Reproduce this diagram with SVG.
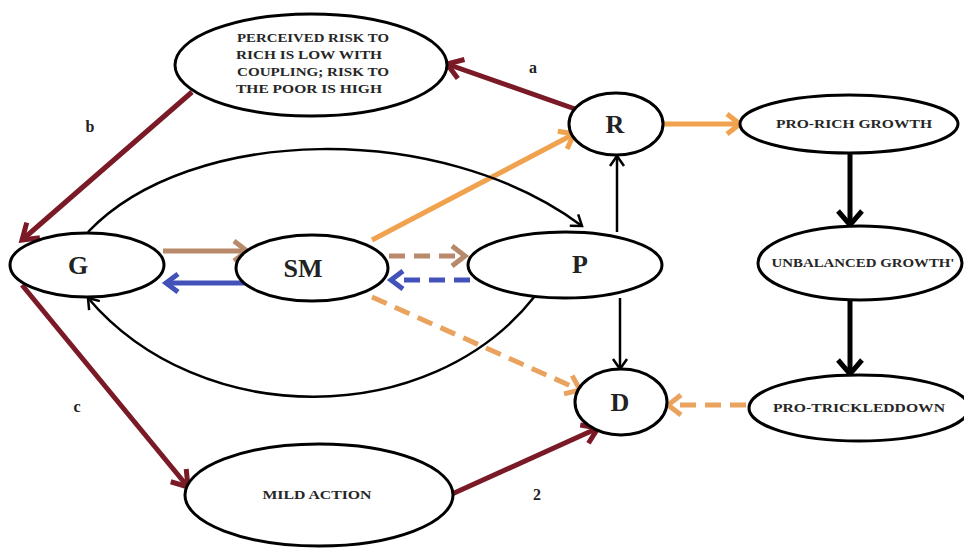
<svg xmlns="http://www.w3.org/2000/svg" width="964" height="548" viewBox="0 0 964 548">
<style>
.n{fill:#fff;stroke:#000;stroke-width:3}
.big{font-family:"Liberation Serif",serif;font-weight:bold;font-size:26px;fill:#222;text-anchor:middle}
.sm{font-family:"Liberation Serif",serif;font-weight:bold;font-size:12px;fill:#262626;text-anchor:middle}
.lbl{font-family:"Liberation Serif",serif;font-weight:bold;font-size:16px;fill:#222;text-anchor:middle}
.red{stroke:#7a1a26;stroke-width:5;fill:none}
.tan{stroke:#b8896a;stroke-width:5;fill:none}
.blue{stroke:#4252b8;stroke-width:5;fill:none}
.org{stroke:#f0a24e;stroke-width:5;fill:none}
.orgd{stroke:#e9a35e;stroke-width:5;fill:none;stroke-dasharray:16 9}
.blk{stroke:#000;stroke-width:2.5;fill:none}
.blkT{stroke:#000;stroke-width:5;fill:none}
</style>
<defs>
<marker id="mRed" markerUnits="userSpaceOnUse" markerWidth="26" markerHeight="26" refX="22" refY="13" orient="auto" overflow="visible"><path d="M7,3 L22,13 L7,23" fill="none" stroke="#7a1a26" stroke-width="5"/></marker>
<marker id="mTan" markerUnits="userSpaceOnUse" markerWidth="26" markerHeight="26" refX="22" refY="13" orient="auto" overflow="visible"><path d="M9,3 L22,13 L9,23" fill="none" stroke="#b8896a" stroke-width="5"/></marker>
<marker id="mBlue" markerUnits="userSpaceOnUse" markerWidth="26" markerHeight="26" refX="22" refY="13" orient="auto" overflow="visible"><path d="M10,4 L22,13 L10,22" fill="none" stroke="#4252b8" stroke-width="5"/></marker>
<marker id="mOrg" markerUnits="userSpaceOnUse" markerWidth="26" markerHeight="26" refX="22" refY="13" orient="auto" overflow="visible"><path d="M9,3 L22,13 L9,23" fill="none" stroke="#f0a24e" stroke-width="5"/></marker>
<marker id="mOrgD" markerUnits="userSpaceOnUse" markerWidth="26" markerHeight="26" refX="22" refY="13" orient="auto" overflow="visible"><path d="M9,3 L22,13 L9,23" fill="none" stroke="#e9a35e" stroke-width="5"/></marker>
<marker id="mBlk" markerUnits="userSpaceOnUse" markerWidth="20" markerHeight="20" refX="16" refY="10" orient="auto" overflow="visible"><path d="M6,3 L16,10 L6,17" fill="none" stroke="#000" stroke-width="2.5"/></marker>
<marker id="mBlkT" markerUnits="userSpaceOnUse" markerWidth="30" markerHeight="30" refX="24" refY="15" orient="auto" overflow="visible"><path d="M10,3 L24,15 L10,27" fill="none" stroke="#000" stroke-width="5"/></marker>
</defs>
<rect width="964" height="548" fill="#fff"/>
<g id="connectors">
<line class="red" x1="578" y1="110" x2="447" y2="64" marker-end="url(#mRed)"/>
<line class="red" x1="192" y1="92" x2="22" y2="240" marker-end="url(#mRed)"/>
<line class="red" x1="22" y1="285" x2="188" y2="487" marker-end="url(#mRed)"/>
<line class="red" x1="452" y1="494" x2="598" y2="428" marker-end="url(#mRed)"/>
<line class="tan" x1="163" y1="251" x2="247" y2="251" marker-end="url(#mTan)"/>
<line class="blue" x1="253" y1="283" x2="166" y2="283" marker-end="url(#mBlue)"/>
<line class="tan" x1="389" y1="256" x2="465" y2="256" stroke-dasharray="16 9" marker-end="url(#mTan)"/>
<line class="blue" x1="470" y1="280" x2="391" y2="280" stroke-dasharray="16 9" marker-end="url(#mBlue)"/>
<line class="org" x1="372" y1="240" x2="574" y2="134" marker-end="url(#mOrg)"/>
<line class="orgd" x1="372" y1="297" x2="580" y2="390" marker-end="url(#mOrgD)"/>
<line class="org" x1="663" y1="124" x2="740" y2="124" marker-end="url(#mOrg)"/>
<line class="blkT" x1="850" y1="153" x2="850" y2="225" marker-end="url(#mBlkT)"/>
<line class="blkT" x1="850" y1="301" x2="850" y2="374" marker-end="url(#mBlkT)"/>
<line class="orgd" x1="746" y1="405" x2="668" y2="405" marker-end="url(#mOrgD)"/>
<line class="blk" x1="617" y1="232" x2="617" y2="156" marker-end="url(#mBlk)"/>
<line class="blk" x1="620" y1="298" x2="620" y2="369" marker-end="url(#mBlk)"/>
<path class="blk" d="M88,232 C190,125 440,120 582,226" marker-end="url(#mBlk)"/>
<path class="blk" d="M535,296 C430,430 200,430 88,298" marker-end="url(#mBlk)"/>
<text class="lbl" x="533" y="73">a</text>
<text class="lbl" x="90" y="132">b</text>
<text class="lbl" x="77" y="412">c</text>
<text class="lbl" x="537" y="500">2</text>
</g>
<g id="risk">
<ellipse class="n" cx="311" cy="65" rx="136" ry="51"/>
<text class="sm" x="313" y="42" textLength="152" lengthAdjust="spacingAndGlyphs">PERCEIVED RISK TO</text>
<text class="sm" x="309" y="59" textLength="146" lengthAdjust="spacingAndGlyphs">RICH IS LOW WITH</text>
<text class="sm" x="313" y="76" textLength="152" lengthAdjust="spacingAndGlyphs">COUPLING; RISK TO</text>
<text class="sm" x="309" y="93" textLength="146" lengthAdjust="spacingAndGlyphs">THE POOR IS HIGH</text>
</g>
<g id="G"><ellipse class="n" cx="87" cy="265" rx="77" ry="32"/><text class="big" x="78" y="274">G</text></g>
<g id="SM"><ellipse class="n" cx="312" cy="268" rx="76" ry="33"/><text class="big" x="303" y="277">SM</text></g>
<g id="P"><ellipse class="n" cx="565" cy="265" rx="97" ry="33"/><text class="big" x="580" y="273">P</text></g>
<g id="R"><ellipse class="n" cx="616" cy="124" rx="47" ry="31"/><text class="big" x="615" y="133">R</text></g>
<g id="D"><ellipse class="n" cx="621" cy="402" rx="46" ry="33"/><text class="big" x="620" y="411">D</text></g>
<g id="prorich"><ellipse class="n" cx="849" cy="124" rx="109" ry="29"/><text class="sm" x="854" y="128" textLength="156" lengthAdjust="spacingAndGlyphs">PRO-RICH GROWTH</text></g>
<g id="unbalanced"><ellipse class="n" cx="860" cy="263" rx="102" ry="37"/><text class="sm" x="863" y="267" textLength="183" lengthAdjust="spacingAndGlyphs">UNBALANCED GROWTH'</text></g>
<g id="protrickle"><ellipse class="n" cx="859" cy="408" rx="110" ry="33"/><text class="sm" x="859" y="412" textLength="172" lengthAdjust="spacingAndGlyphs">PRO-TRICKLEDDOWN</text></g>
<g id="mild"><ellipse class="n" cx="319" cy="495" rx="134" ry="51"/><text class="sm" x="317" y="499" textLength="109" lengthAdjust="spacingAndGlyphs">MILD ACTION</text></g>
</svg>
